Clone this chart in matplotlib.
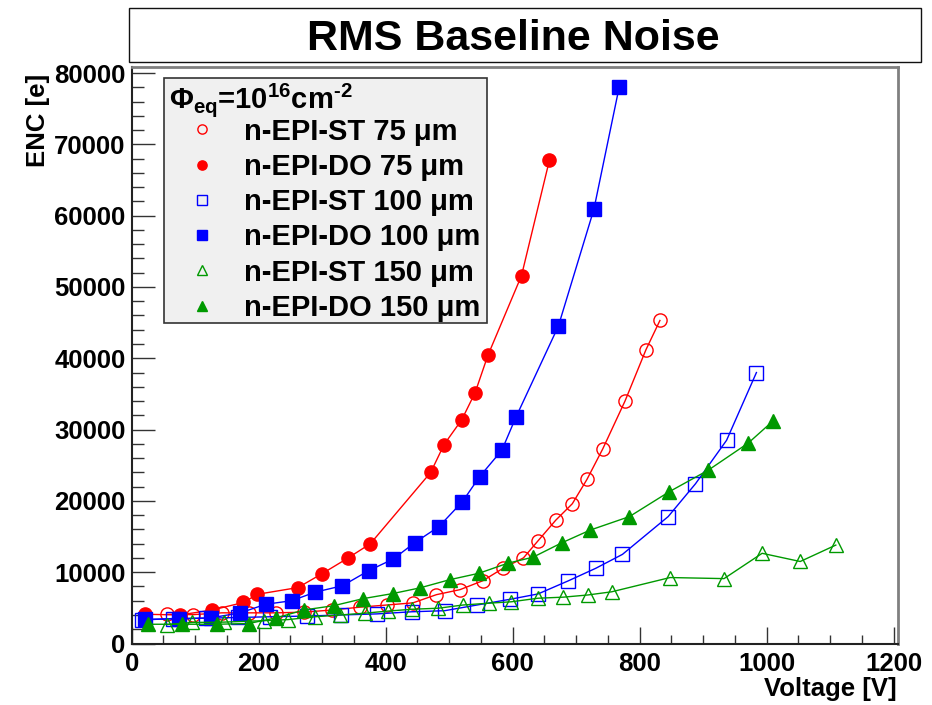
import matplotlib
matplotlib.use("Agg")
import matplotlib.pyplot as plt
from matplotlib.patches import Rectangle
from matplotlib.ticker import MultipleLocator

plt.rcParams['font.family'] = ['Liberation Sans', 'DejaVu Sans']
plt.rcParams['font.weight'] = 'bold'
plt.rcParams['mathtext.fontset'] = 'custom'
plt.rcParams['mathtext.rm'] = 'Liberation Sans:bold'
plt.rcParams['mathtext.bf'] = 'Liberation Sans:bold'
plt.rcParams['mathtext.it'] = 'Liberation Sans:bold'

# ---------------- data ----------------
v_st75 = [55, 97, 142, 185, 228, 272, 316, 360, 402, 443, 480, 517, 553, 585, 617, 640,
          668, 694, 717, 742, 777, 810, 832]
enc_st75 = [4100, 4050, 4300, 4300, 4300, 4400, 4700, 5100, 5400, 5700, 6850, 7550, 8800,
            10550, 12000, 14400, 17300, 19600, 23000, 27300, 34000, 41200, 45300]

v_do75 = [21, 76, 127, 176, 198, 262, 300, 340, 376, 471, 492, 520, 541, 561, 614, 658]
enc_do75 = [4100, 4000, 4700, 5750, 6900, 7850, 9800, 11950, 14000, 24000, 27900, 31400,
            35200, 40400, 51600, 67800]

v_st100 = [17, 65, 117, 168, 218, 276, 329, 386, 441, 493, 544, 596, 640, 688, 731, 773,
           845, 888, 937, 984]
enc_st100 = [3300, 3500, 3550, 3650, 3750, 3850, 4000, 4150, 4450, 4600, 5400, 6200, 6950,
             8800, 10550, 12500, 17800, 22400, 28500, 38000]

v_do100 = [21, 75, 125, 171, 211, 252, 289, 332, 373, 412, 446, 484, 521, 548, 583, 605,
           672, 728, 768]
enc_do100 = [3400, 3450, 3600, 4300, 5500, 6000, 7200, 8100, 10200, 11850, 14150, 16400,
             19900, 23400, 27100, 31700, 44500, 60900, 78100]

v_st150 = [55, 95, 145, 208, 246, 289, 328, 367, 404, 441, 483, 522, 562, 598, 640, 680,
           718, 756, 848, 933, 993, 1053, 1109]
enc_st150 = [2650, 2950, 3000, 3200, 3350, 3750, 4000, 4250, 4550, 4800, 4950, 5400, 5650,
             5850, 6350, 6500, 6800, 7250, 9250, 9100, 12650, 11500, 13800]

v_do150 = [26, 80, 134, 184, 228, 271, 318, 365, 411, 454, 501, 547, 592, 632, 677, 722,
           784, 847, 908, 971, 1010]
enc_do150 = [2700, 2700, 2700, 2800, 3600, 4700, 5300, 6300, 7000, 7800, 8950, 9850, 11250,
             12100, 14100, 15900, 17800, 21300, 24300, 28100, 31200]

labels = ["n-EPI-ST 75 \u03bcm", "n-EPI-DO 75 \u03bcm", "n-EPI-ST 100 \u03bcm",
          "n-EPI-DO 100 \u03bcm", "n-EPI-ST 150 \u03bcm", "n-EPI-DO 150 \u03bcm"]
title = "RMS Baseline Noise"
xlabel = "Voltage [V]"
ylabel = "ENC [e]"
header = r"$\mathbf{\Phi_{eq}}$=10$^{\mathbf{16}}$cm$^{\text{-2}}$"

# ---------------- figure ----------------
W, H = 932, 705
fig = plt.figure(figsize=(W / 100, H / 100), dpi=100)
fig.patch.set_facecolor('white')


def fx(px):
    return px / W


def fy(py):
    return 1 - py / H


ax_l, ax_r, ax_t, ax_b = 131.7, 898, 67, 643.5
ax = fig.add_axes([fx(ax_l), fy(ax_b), (ax_r - ax_l) / W, (ax_b - ax_t) / H])

red, blue, green = '#ff0000', '#0000ff', '#009900'
series = [
    (v_st75, enc_st75, red, 'o', False, 9.5),
    (v_do75, enc_do75, red, 'o', True, 9.5),
    (v_st100, enc_st100, blue, 's', False, 9.5),
    (v_do100, enc_do100, blue, 's', True, 9.5),
    (v_st150, enc_st150, green, '^', False, 10.5),
    (v_do150, enc_do150, green, '^', True, 10.5),
]
handles = []
for (xs, ys, c, m, filled, ms), lab in zip(series, labels):
    h, = ax.plot(xs, ys, color=c, lw=1.0, marker=m, markersize=ms,
                 markerfacecolor=c if filled else 'none', markeredgecolor=c,
                 markeredgewidth=1.0, label=lab, zorder=3)
    handles.append(h)

ax.set_xlim(0, 1207)
ax.set_ylim(0, 80850)
ax.xaxis.set_major_locator(MultipleLocator(200))
ax.xaxis.set_minor_locator(MultipleLocator(50))
ax.yaxis.set_major_locator(MultipleLocator(10000))
ax.yaxis.set_minor_locator(MultipleLocator(2000))

ax.tick_params(axis='both', which='both', direction='in', top=False, right=False,
               colors='#333333', labelcolor='black', width=1.0)
ax.tick_params(axis='y', which='major', length=16.5, labelsize=18.5, pad=4.5)
ax.tick_params(axis='y', which='minor', length=8.6)
ax.tick_params(axis='x', which='major', length=12, labelsize=18.5, pad=6)
ax.tick_params(axis='x', which='minor', length=6.5)
for lbl in ax.get_xticklabels() + ax.get_yticklabels():
    lbl.set_fontweight('bold')

for s in ['left', 'bottom']:
    ax.spines[s].set_color('#222222')
    ax.spines[s].set_linewidth(1.5)
for s in ['top', 'right']:
    ax.spines[s].set_color('#808080')
    ax.spines[s].set_linewidth(2.0)

# axis titles
fig.text(fx(897), fy(689), xlabel, ha='right', va='center', fontsize=18.5, fontweight='bold')
fig.text(fx(38), fy(74), ylabel, ha='center', va='top', rotation=90, fontsize=18.5,
         fontweight='bold')

# title box
fig.add_artist(Rectangle((fx(129), fy(62)), (921 - 129) / W, (62 - 8) / H,
                         transform=fig.transFigure, facecolor='white',
                         edgecolor='#111111', lw=1.0))
fig.text(fx(513), fy(39), title, ha='center', va='center', fontsize=31, fontweight='bold')

# legend box
fig.add_artist(Rectangle((fx(164), fy(323)), (487 - 164) / W, (323 - 78) / H,
                         transform=fig.transFigure, facecolor='#f0f0f0',
                         edgecolor='#333333', lw=1.2, zorder=4))
fig.text(fx(169), fy(100), header, ha='left', va='center', fontsize=21, zorder=6)
leg = fig.legend(handles=handles, labels=labels, loc='upper left',
                 bbox_to_anchor=(fx(189), fy(117.5)), bbox_transform=fig.transFigure,
                 frameon=False, prop={'weight': 'bold', 'size': 21},
                 handlelength=0.92, handletextpad=0.95, labelspacing=0.25,
                 borderpad=0.0, borderaxespad=0.0, markerscale=0.7, numpoints=1)
for line in leg.get_lines():
    line.set_linestyle('none')
leg.set_zorder(6)

fig.savefig('out.png', dpi=100, facecolor='white')
